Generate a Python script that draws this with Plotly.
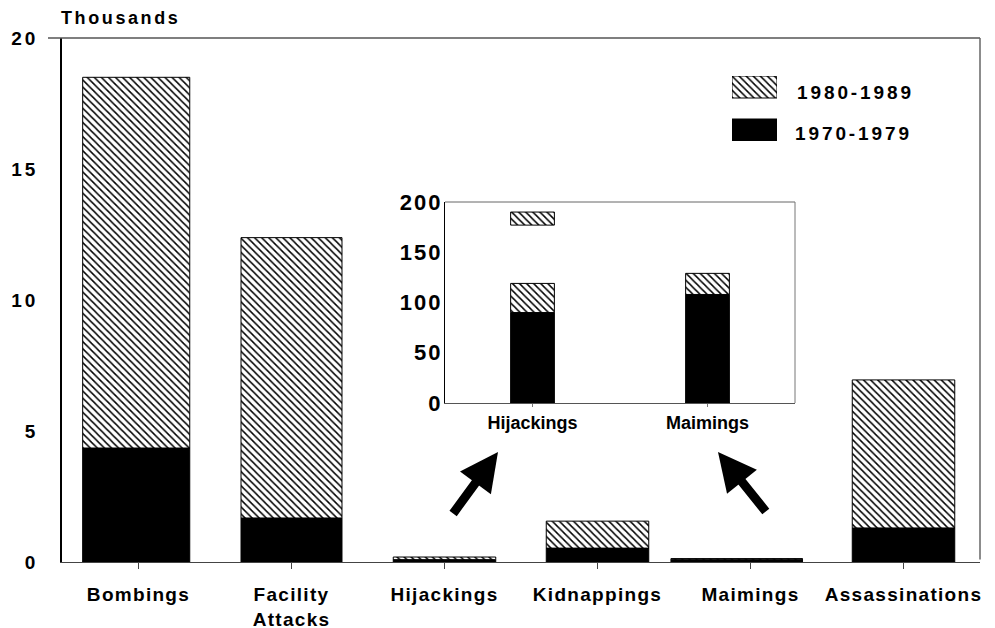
import plotly.graph_objects as go

# ---------------- data ----------------
categories = ["Bombings", "Facility Attacks", "Hijackings", "Kidnappings", "Maimings", "Assassinations"]
tick_labels = ["Bombings", "Facility<br>Attacks", "Hijackings", "Kidnappings", "Maimings", "Assassinations"]
v1970s = [4.35, 1.68, 0.09, 0.53, 0.108, 1.30]      # thousands
v1980s = [14.15, 10.70, 0.10, 1.03, 0.02, 5.65]     # thousands
y_ticks = [0, 5, 10, 15, 20]

inset_categories = ["Hijackings", "Maimings"]
inset_1970s = [90, 108]
inset_1980s = [29, 21]
inset_1980s_detached = [13, 0]
inset_1980s_detached_base = [177, 0]
inset_y_ticks = [0, 50, 100, 150, 200]

legend_labels = ["1980-1989", "1970-1979"]

# ---------------- style ----------------
FONT = "Liberation Sans, Arial, sans-serif"
BAR_W = [0.70, 0.66, 0.67, 0.67, 0.86, 0.67]
BAR_SHIFT = [-0.015, 0, 0, 0, -0.09, 0]
BAR_OFFSET = [-w / 2 + s for w, s in zip(BAR_W, BAR_SHIFT)]
HATCH = dict(shape="\\", size=5, solidity=0.3, fgcolor="black", bgcolor="white", fillmode="replace")


def spaced(t, px):
    return f'<span style="letter-spacing:{px}px">{t}</span>'


fig = go.Figure()

# main chart
fig.add_trace(go.Bar(x=categories, y=v1970s, base=[0] * len(v1970s), width=BAR_W, offset=BAR_OFFSET,
                     marker=dict(color="black", line=dict(color="black", width=1)),
                     xaxis="x", yaxis="y", showlegend=False))
fig.add_trace(go.Bar(x=categories, y=v1980s, base=v1970s, width=BAR_W, offset=BAR_OFFSET,
                     marker=dict(color="white", pattern=HATCH, line=dict(color="black", width=1)),
                     xaxis="x", yaxis="y", showlegend=False))

# inset
fig.add_trace(go.Bar(x=inset_categories, y=inset_1970s, base=[0, 0], width=0.25,
                     marker=dict(color="black", line=dict(color="black", width=1)),
                     xaxis="x2", yaxis="y2", showlegend=False))
fig.add_trace(go.Bar(x=inset_categories, y=inset_1980s, base=inset_1970s, width=0.25,
                     marker=dict(color="white", pattern=HATCH, line=dict(color="black", width=1)),
                     xaxis="x2", yaxis="y2", showlegend=False))
fig.add_trace(go.Bar(x=inset_categories, y=inset_1980s_detached, base=inset_1980s_detached_base, width=0.25,
                     marker=dict(color="white", pattern=HATCH, line=dict(color="black", width=1)),
                     xaxis="x2", yaxis="y2", showlegend=False))

# legend swatches (drawn on a small helper axis)
fig.add_trace(go.Bar(x=[0], y=[22], base=[43], width=1,
                     marker=dict(color="white", pattern=HATCH, line=dict(color="black", width=1)),
                     xaxis="x3", yaxis="y3", showlegend=False, hoverinfo="skip"))
fig.add_trace(go.Bar(x=[0], y=[22], base=[0], width=1,
                     marker=dict(color="black", line=dict(color="black", width=1)),
                     xaxis="x3", yaxis="y3", showlegend=False, hoverinfo="skip"))

# the page body adds an 8px offset, so the figure is sized to fit the 995x628 window
fig.update_layout(
    width=987, height=620,
    margin=dict(l=54, r=15, t=30, b=66, autoexpand=False),
    paper_bgcolor="white", plot_bgcolor="white",
    barmode="overlay",
    font=dict(family=FONT, color="black", size=18, weight="bold"),
    xaxis=dict(domain=[0, 1], type="category", range=[-0.5, 5.5], automargin=False,
               tickvals=categories, ticktext=[spaced(t, 1.3) for t in tick_labels],
               showline=True, linecolor="#444", linewidth=1,
               ticks="outside", ticklen=6, tickcolor="#444", tickwidth=1,
               ticklabelstandoff=9,
               tickfont=dict(size=19, family=FONT, weight="bold"),
               showgrid=False, zeroline=False, fixedrange=True),
    yaxis=dict(domain=[0, 1], range=[0, 20], tickvals=y_ticks, automargin=False,
               ticktext=[spaced(str(v), 3) for v in y_ticks],
               showline=True, linecolor="black", linewidth=1.5,
               ticks="", ticklabelstandoff=18,
               tickfont=dict(size=19, family=FONT, weight="bold"),
               showgrid=False, zeroline=False),
    xaxis2=dict(domain=[(445 - 62) / 918, (795 - 62) / 918], anchor="y2", type="category",
                automargin=False,
                range=[-0.5, 1.5], showline=True, linecolor="#555", linewidth=1,
                ticks="outside", ticklen=3, tickcolor="#777",
                tickfont=dict(size=18, family=FONT, weight="bold"), ticklabelstandoff=0,
                showgrid=False, zeroline=False),
    yaxis2=dict(domain=[(562 - 403) / 524, (562 - 202) / 524], anchor="x2", range=[0, 200],
                automargin=False,
                tickvals=inset_y_ticks, ticktext=[spaced(str(v), 2) for v in inset_y_ticks],
                showline=True, linecolor="black", linewidth=1.2, ticks="",
                ticklabelstandoff=-3,
                tickfont=dict(size=22, family=FONT, weight="bold"),
                showgrid=False, zeroline=False),
    xaxis3=dict(domain=[(732 - 62) / 918, (777 - 62) / 918], anchor="y3", range=[-0.5, 0.5],
                visible=False),
    yaxis3=dict(domain=[(562 - 141) / 524, (562 - 76) / 524], anchor="x3", range=[0, 65],
                visible=False),
    shapes=[
        dict(type="line", xref="paper", yref="paper", x0=(48 - 62) / 918, x1=1, y0=1, y1=1,
             line=dict(color="#555", width=1.5)),
        dict(type="line", xref="paper", yref="paper", x0=1, x1=1, y0=0.005, y1=1,
             line=dict(color="#666", width=1.5)),
        dict(type="line", xref="x2 domain", yref="y2 domain", x0=0, x1=1, y0=1, y1=1,
             line=dict(color="#666", width=1)),
        dict(type="line", xref="x2 domain", yref="y2 domain", x0=1, x1=1, y0=0, y1=1,
             line=dict(color="#777", width=1)),
    ],
    annotations=[
        dict(text=spaced("Thousands", 2.6), xref="paper", yref="paper",
             x=(59 - 62) / 918, y=(562 - 18) / 524, xanchor="left", yanchor="middle",
             showarrow=False, font=dict(size=18, family=FONT, weight="bold")),
        dict(text=spaced(legend_labels[0], 2.9), xref="paper", yref="paper",
             x=(795 - 62) / 918, y=(562 - 92) / 524, xanchor="left", yanchor="middle",
             showarrow=False, font=dict(size=19, family=FONT, weight="bold")),
        dict(text=spaced(legend_labels[1], 2.9), xref="paper", yref="paper",
             x=(793 - 62) / 918, y=(562 - 134) / 524, xanchor="left", yanchor="middle",
             showarrow=False, font=dict(size=19, family=FONT, weight="bold")),
        dict(text="", xref="paper", yref="paper",
             x=(498 - 62) / 918, y=(562 - 452) / 524, ax=-46, ay=63,
             showarrow=True, arrowhead=2, arrowsize=0.85, arrowwidth=9, arrowcolor="black",
             standoff=0, startstandoff=0),
        dict(text="", xref="paper", yref="paper",
             x=(718 - 62) / 918, y=(562 - 452) / 524, ax=49, ay=61,
             showarrow=True, arrowhead=2, arrowsize=0.85, arrowwidth=9, arrowcolor="black",
             standoff=0, startstandoff=0),
    ],
)

fig.write_html("out.html")
